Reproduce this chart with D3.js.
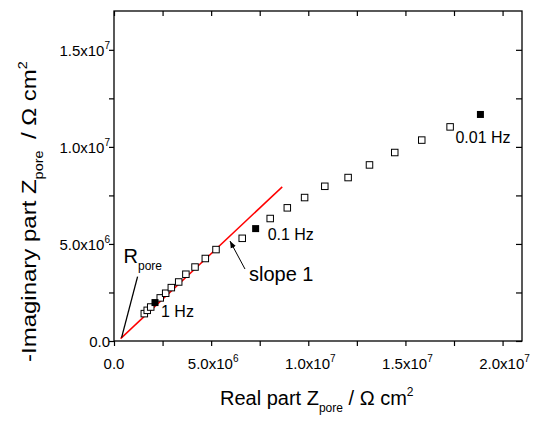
<!DOCTYPE html>
<html>
<head>
<meta charset="utf-8">
<script src="https://cdn.jsdelivr.net/npm/d3@7"></script>
<style>
  body { margin: 0; background: #fff; }
  text { font-family: "Liberation Sans", Arial, sans-serif; fill: #000; }
</style>
</head>
<body>
<svg id="chart" width="534" height="421"></svg>
<script>
// impedance data (Nyquist plot)
const realPart = [1.56e6, 1.71e6, 1.89e6, 2.38e6, 2.66e6, 2.95e6, 3.33e6, 3.70e6, 4.17e6, 4.70e6, 5.25e6,
                  6.60e6, 8.04e6, 8.92e6, 9.81e6, 1.085e7, 1.205e7, 1.315e7, 1.445e7, 1.584e7, 1.73e7];
const imagPart = [1.41e6, 1.58e6, 1.75e6, 2.22e6, 2.46e6, 2.75e6, 3.04e6, 3.44e6, 3.81e6, 4.25e6, 4.71e6,
                  5.29e6, 6.31e6, 6.86e6, 7.39e6, 7.97e6, 8.42e6, 9.07e6, 9.71e6, 1.035e7, 1.103e7];

// frequency markers (filled squares)
const markedReal = [2.11e6, 7.29e6, 1.886e7];
const markedImag = [1.98e6, 5.79e6, 1.167e7];
const markedLabels = ["1 Hz", "0.1 Hz", "0.01 Hz"];

// slope 1 line
const slopeReal = [3.4e5, 8.66e6];
const slopeImag = [1.2e5, 7.94e6];

// R_pore intercept and slope arrow target
const rPore = [3.9e5, 1.7e5];
const slopeArrowTip = [5.97e6, 5.15e6];

const xTicks = [0, 5e6, 1e7, 1.5e7, 2e7];
const yTicks = [0, 5e6, 1e7, 1.5e7];
const xMinor = [2.5e6, 7.5e6, 1.25e7, 1.75e7];
const yMinor = [2.5e6, 7.5e6, 1.25e7];

const mLeft = 114, mRight = 522, mTop = 11, mBottom = 341;

const x = d3.scaleLinear().domain([0, 2.1e7]).range([mLeft, mRight]);
const y = d3.scaleLinear().domain([0, 1.7e7]).range([mBottom, mTop]);

const svg = d3.select("#chart");

// frame
svg.append("rect")
    .attr("x", mLeft).attr("y", mTop)
    .attr("width", mRight - mLeft).attr("height", mBottom - mTop)
    .attr("fill", "none").attr("stroke", "#000").attr("stroke-width", 1.3);

function tickLabel(sel, v) {
  sel.selectAll("*").remove();
  if (v === 0) { sel.append("tspan").text("0.0"); return; }
  const e = Math.floor(Math.log10(v));
  const m = (v / Math.pow(10, e)).toFixed(1);
  sel.append("tspan").text(m + "x10");
  sel.append("tspan").attr("dy", -7).attr("font-size", 10).text(e);
}

// bottom axis (outward ticks)
const xAxis = svg.append("g").attr("transform", `translate(0,${mBottom})`)
    .call(d3.axisBottom(x).tickValues(xTicks.concat(xMinor)).tickSize(5).tickFormat(""));
xAxis.select(".domain").remove();
xAxis.selectAll(".tick line").attr("stroke-width", 1.2);

xTicks.forEach(v => {
  svg.append("text")
      .attr("x", x(v) + (v === 0 ? 0 : 2)).attr("y", 369)
      .attr("text-anchor", "middle").attr("font-size", 15)
      .call(tickLabel, v);
});

// top axis (inward ticks)
const xTop = svg.append("g").attr("transform", `translate(0,${mTop})`)
    .call(d3.axisBottom(x).tickValues(xTicks.concat(xMinor)).tickSize(5).tickFormat(""));
xTop.select(".domain").remove();
xTop.selectAll(".tick line").attr("stroke-width", 1.2);

// left axis (outward ticks)
const yAxis = svg.append("g").attr("transform", `translate(${mLeft},0)`)
    .call(d3.axisLeft(y).tickValues(yTicks.concat(yMinor)).tickSize(5).tickFormat(""));
yAxis.select(".domain").remove();
yAxis.selectAll(".tick line").attr("stroke-width", 1.2);

yTicks.forEach(v => {
  svg.append("text")
      .attr("x", 110).attr("y", y(v) + 6)
      .attr("text-anchor", "end").attr("font-size", 15)
      .call(tickLabel, v);
});

// right axis (inward ticks)
const yRight = svg.append("g").attr("transform", `translate(${mRight},0)`)
    .call(d3.axisLeft(y).tickValues(yTicks.concat(yMinor)).tickSize(6).tickFormat(""));
yRight.select(".domain").remove();
yRight.selectAll(".tick line").attr("stroke-width", 1.2);

// axis titles
const xTitle = svg.append("text")
    .attr("x", 220).attr("y", 405)
    .attr("font-size", 20);
xTitle.append("tspan").text("Real part Z");
xTitle.append("tspan").attr("dy", 7).attr("font-size", 12).text("pore");
xTitle.append("tspan").attr("dy", -7).text(" / Ω cm");
xTitle.append("tspan").attr("dy", -9).attr("font-size", 12).text("2");

const yTitle = svg.append("text")
    .attr("transform", "translate(36,362) rotate(-90) scale(1.2,1)")
    .attr("font-size", 20);
yTitle.append("tspan").text("-Imaginary part Z");
yTitle.append("tspan").attr("dy", 7).attr("font-size", 12).text("pore");
yTitle.append("tspan").attr("dy", -7).attr("dx", 4).text(" / Ω cm");
yTitle.append("tspan").attr("dy", -9).attr("font-size", 12).text("2");

// slope line
const line = d3.line().x(d => x(d[0])).y(d => y(d[1]));
svg.append("path")
    .datum(d3.zip(slopeReal, slopeImag))
    .attr("d", line)
    .attr("fill", "none").attr("stroke", "#f00").attr("stroke-width", 1.5);

// open squares
const sq = 6.5;
svg.append("g").selectAll("rect")
    .data(d3.zip(realPart, imagPart))
    .enter().append("rect")
      .attr("x", d => x(d[0]) - sq / 2)
      .attr("y", d => y(d[1]) - sq / 2)
      .attr("width", sq).attr("height", sq)
      .attr("fill", "#fff").attr("stroke", "#000").attr("stroke-width", 1);

// filled markers
const marked = d3.zip(markedReal, markedImag, markedLabels);
svg.append("g").selectAll("rect")
    .data(marked)
    .enter().append("rect")
      .attr("x", d => x(d[0]) - 3.5)
      .attr("y", d => y(d[1]) - 3.5)
      .attr("width", 7).attr("height", 7)
      .attr("fill", "#000");

const labelOffsets = [[6, 14], [12, 11], [-25, 29]];
svg.append("g").selectAll("text")
    .data(marked)
    .enter().append("text")
      .attr("x", (d, i) => x(d[0]) + labelOffsets[i][0])
      .attr("y", (d, i) => y(d[1]) + labelOffsets[i][1])
      .attr("font-size", 16)
      .text(d => d[2]);

// R_pore annotation
svg.append("line")
    .attr("x1", x(rPore[0])).attr("y1", y(rPore[1]))
    .attr("x2", x(rPore[0]) + 16).attr("y2", y(rPore[1]) - 61)
    .attr("stroke", "#000").attr("stroke-width", 1.3);
const rText = svg.append("text")
    .attr("x", x(rPore[0]) + 2).attr("y", y(rPore[1]) - 75)
    .attr("font-size", 20);
rText.append("tspan").text("R");
rText.append("tspan").attr("dy", 7).attr("font-size", 12).text("pore");

// slope 1 arrow
svg.append("defs").append("marker")
    .attr("id", "arrow").attr("viewBox", "0 0 10 10")
    .attr("refX", 10).attr("refY", 5)
    .attr("markerWidth", 7).attr("markerHeight", 7)
    .attr("orient", "auto")
  .append("path").attr("d", "M0,1 L10,5 L0,9 Z").attr("fill", "#000");

svg.append("line")
    .attr("x1", x(slopeArrowTip[0]) + 15).attr("y1", y(slopeArrowTip[1]) + 28)
    .attr("x2", x(slopeArrowTip[0])).attr("y2", y(slopeArrowTip[1]))
    .attr("stroke", "#000").attr("stroke-width", 1)
    .attr("marker-end", "url(#arrow)");

svg.append("text")
    .attr("x", x(slopeArrowTip[0]) + 19).attr("y", y(slopeArrowTip[1]) + 40)
    .attr("font-size", 20)
    .text("slope 1");
</script>
</body>
</html>
